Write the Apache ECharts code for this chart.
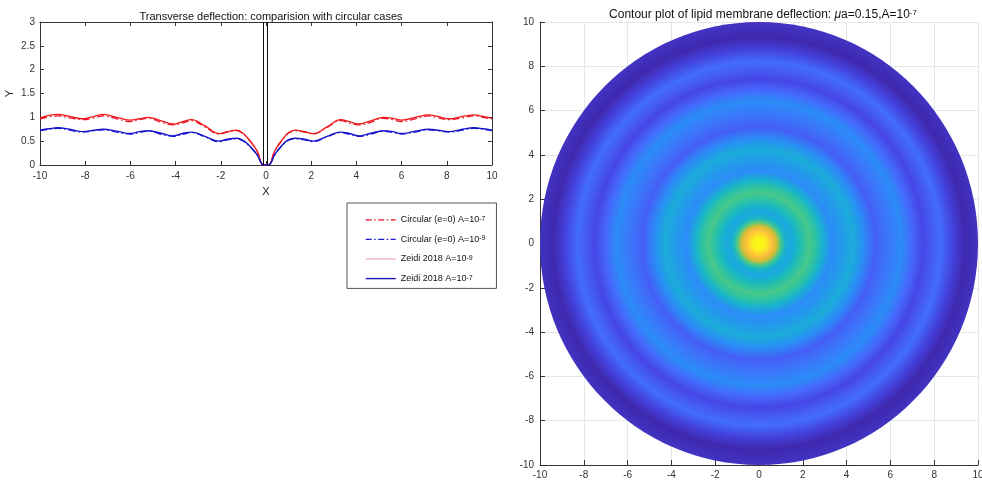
<!DOCTYPE html>
<html><head><meta charset="utf-8">
<script src="https://cdn.jsdelivr.net/npm/echarts@6/dist/echarts.min.js"></script>
<style>html,body{margin:0;padding:0;background:#fff}#c{width:982px;height:483px}</style>
</head><body><div id="c"></div>
<script>
// ---------- Left chart data ----------
const X = [-10, -9.6, -9.2, -8.7, -8.1, -7.6, -7.2, -6.6, -6.0, -5.6, -5.2, -4.6, -4.1, -3.7, -3.3, -2.7, -2.1, -1.7, -1.3, -1.0, -0.7, -0.4, -0.1,
           0.1, 0.4, 0.7, 1.0, 1.3, 1.7, 2.1, 2.7, 3.3, 3.7, 4.1, 4.6, 5.2, 5.6, 6.0, 6.6, 7.2, 7.6, 8.1, 8.7, 9.2, 9.6, 10];
const redZeidi = [0.99, 1.04, 1.06, 1.02, 0.97, 1.02, 1.06, 1.00, 0.94, 0.97, 1.00, 0.92, 0.86, 0.91, 0.95, 0.82, 0.66, 0.70, 0.73, 0.66, 0.50, 0.30, 0.00,
                  0.00, 0.31, 0.52, 0.68, 0.73, 0.70, 0.66, 0.80, 0.95, 0.91, 0.86, 0.92, 1.00, 0.98, 0.94, 1.00, 1.05, 1.02, 0.97, 1.02, 1.05, 1.02, 0.98];
const redCirc  = [0.97, 1.01, 1.03, 0.99, 0.95, 0.99, 1.03, 0.97, 0.91, 0.95, 0.98, 0.89, 0.84, 0.88, 0.93, 0.80, 0.65, 0.69, 0.72, 0.65, 0.50, 0.30, 0.00,
                  0.00, 0.31, 0.51, 0.67, 0.72, 0.69, 0.65, 0.79, 0.93, 0.88, 0.84, 0.89, 0.98, 0.95, 0.91, 0.97, 1.03, 0.99, 0.95, 0.99, 1.03, 1.00, 0.97];
const blueZeidi = [0.73, 0.76, 0.78, 0.75, 0.70, 0.73, 0.75, 0.71, 0.66, 0.70, 0.72, 0.66, 0.61, 0.66, 0.69, 0.60, 0.50, 0.54, 0.56, 0.51, 0.39, 0.22, 0.00,
                   0.00, 0.23, 0.41, 0.53, 0.56, 0.54, 0.50, 0.60, 0.69, 0.66, 0.61, 0.66, 0.72, 0.70, 0.66, 0.71, 0.75, 0.73, 0.70, 0.75, 0.78, 0.76, 0.73];
const blueCirc  = [0.72, 0.75, 0.77, 0.73, 0.69, 0.72, 0.74, 0.69, 0.65, 0.68, 0.71, 0.64, 0.60, 0.64, 0.68, 0.59, 0.49, 0.53, 0.55, 0.50, 0.38, 0.22, 0.00,
                   0.00, 0.22, 0.40, 0.52, 0.55, 0.53, 0.49, 0.59, 0.68, 0.64, 0.60, 0.64, 0.71, 0.68, 0.65, 0.69, 0.74, 0.72, 0.69, 0.73, 0.77, 0.75, 0.72];
const wallX = [-0.12, 0.04];

const seriesNames = ['Circular (e=0) A=10-7', 'Circular (e=0) A=10-9', 'Zeidi 2018 A=10-9', 'Zeidi 2018 A=10-7'];
const legendBase = ['Circular (e=0) A=10', 'Circular (e=0) A=10', 'Zeidi 2018 A=10', 'Zeidi 2018 A=10'];
const legendExp = ['-7', '-9', '-9', '-7'];

// ---------- Right chart: radial profile of the contour (normalized colour value) ----------
const profileR = [0, 0.3, 0.6, 0.8, 1.0, 1.2, 1.45, 1.7, 2.0, 2.3, 2.6, 2.9, 3.3, 3.7, 4.3, 4.8, 5.3, 5.9, 6.5, 7.0, 7.5, 7.9, 8.3, 8.9, 9.4, 10];
const profileV = [1.0, 0.98, 0.90, 0.80, 0.62, 0.46, 0.40, 0.46, 0.56, 0.62, 0.57, 0.45, 0.30, 0.34, 0.42, 0.30, 0.17, 0.24, 0.30, 0.20, 0.10, 0.16, 0.21, 0.08, 0.01, 0.04];
const parulaPos = [0.0, 0.1, 0.2, 0.3, 0.4, 0.5, 0.6, 0.7, 0.8, 0.9, 1.0];
const parulaHex = ['#3e26a8', '#4645e6', '#4569fc', '#2b8cf7', '#1ca8e0', '#14bbbd', '#38c796', '#85cc59', '#d4bd33', '#fcbf3d', '#f9fb14'];

const FONT = 'Liberation Sans, Arial, sans-serif';
const AX = '#333333';

function hexRgb(h){ return [parseInt(h.slice(1,3),16), parseInt(h.slice(3,5),16), parseInt(h.slice(5,7),16)]; }
function parula(v){
  v = Math.max(0, Math.min(1, v));
  for (let i = 0; i < parulaPos.length - 1; i++) {
    if (v <= parulaPos[i+1]) {
      const t = (v - parulaPos[i]) / (parulaPos[i+1] - parulaPos[i]);
      const a = hexRgb(parulaHex[i]), b = hexRgb(parulaHex[i+1]);
      return 'rgb(' + a.map((c, k) => Math.round(c + (b[k]-c)*t)).join(',') + ')';
    }
  }
  return parulaHex[parulaHex.length-1];
}
const gradStops = profileR.map((r, i) => ({offset: r / 10, color: parula(profileV[i])}));

const pairs = ys => X.map((x, i) => [x, ys[i]]);
const dashDot = [7, 3, 1.5, 3];

const chart = echarts.init(document.getElementById('c'), null, {renderer: 'canvas'});

function lineSeries(name, data, color, dash, width) {
  return {
    name, type: 'line', xAxisIndex: 0, yAxisIndex: 0, data, smooth: 0.4,
    symbol: 'none', showSymbol: false, silent: true,
    lineStyle: {color, width, type: dash ? dashDot : 'solid'},
    itemStyle: {color}, z: 3
  };
}

const hiddenSym = {opacity: 0, color: 'rgba(0,0,0,0)', borderWidth: 0};

const option = {
  animation: false,
  backgroundColor: '#fff',
  title: [
    {text: 'Transverse deflection: comparision with circular cases', left: 266, top: 6, textAlign: 'center',
     textStyle: {fontFamily: FONT, fontSize: 11, fontWeight: 'normal', color: '#111'}},
    {text: 'Contour plot of lipid membrane deflection: {i|μ}a=0.15,A=10{s|-7}', left: 758, top: 4, textAlign: 'center',
     textStyle: {fontFamily: FONT, fontSize: 12, fontWeight: 'normal', color: '#111',
       rich: {i: {fontFamily: FONT, fontStyle: 'italic', fontSize: 12, color: '#111'},
              s: {fontFamily: FONT, fontSize: 8, color: '#111', verticalAlign: 'top', lineHeight: 8}}}}
  ],
  legend: {
    left: 347, top: 203, orient: 'vertical', itemWidth: 30, itemHeight: 12, itemGap: 10,
    padding: [12, 11, 5, 18], borderColor: '#555', borderWidth: 1, backgroundColor: '#fff',
    selectedMode: false,
    textStyle: {fontFamily: FONT, fontSize: 9, color: '#111',
      rich: {t: {fontFamily: FONT, fontSize: 9, color: '#111'},
             s: {fontFamily: FONT, fontSize: 7, color: '#111', verticalAlign: 'top', lineHeight: 6}}},
    formatter: name => { const i = seriesNames.indexOf(name); return '{t|' + legendBase[i] + '}{s|' + legendExp[i] + '}'; },
    data: [
      {name: seriesNames[0], itemStyle: hiddenSym, lineStyle: {color: '#e8102a', width: 1.2, type: [6, 2.5, 1.5, 2.5]}},
      {name: seriesNames[1], itemStyle: hiddenSym, lineStyle: {color: '#1a1ad8', width: 1.2, type: [6, 2.5, 1.5, 2.5]}},
      {name: seriesNames[2], itemStyle: hiddenSym, lineStyle: {color: '#f2a3ad', width: 1.2, type: 'solid'}},
      {name: seriesNames[3], itemStyle: hiddenSym, lineStyle: {color: '#1414b8', width: 1.4, type: 'solid'}}
    ]
  },
  grid: [
    {left: 40, top: 22, width: 452, height: 143, containLabel: false, outerBoundsMode: 'none'},
    {left: 540, top: 22, width: 438, height: 443, containLabel: false, outerBoundsMode: 'none'}
  ],
  xAxis: [
    {type: 'value', gridIndex: 0, min: -10, max: 10, interval: 2, name: 'X', nameLocation: 'middle', nameGap: 21,
     nameTextStyle: {fontFamily: FONT, fontSize: 11, color: '#222'},
     axisLine: {show: true, onZero: false, lineStyle: {color: AX, width: 1}},
     axisTick: {show: true, inside: true, length: 4, lineStyle: {color: AX}},
     axisLabel: {fontFamily: FONT, fontSize: 10, color: '#333', margin: 6},
     splitLine: {show: false}},
    {type: 'value', gridIndex: 0, position: 'top', min: -10, max: 10, interval: 2,
     axisLine: {show: true, onZero: false, lineStyle: {color: AX, width: 1}},
     axisTick: {show: true, inside: true, length: 4, lineStyle: {color: AX}},
     axisLabel: {show: false}, splitLine: {show: false}},
    {type: 'value', gridIndex: 1, min: -10, max: 10, interval: 2,
     axisLine: {show: true, onZero: false, lineStyle: {color: AX, width: 1}},
     axisTick: {show: true, inside: true, length: 5, lineStyle: {color: AX}},
     axisLabel: {fontFamily: FONT, fontSize: 10, color: '#333', margin: 5},
     splitLine: {show: true, lineStyle: {color: '#e6e6e6', width: 1}}}
  ],
  yAxis: [
    {type: 'value', gridIndex: 0, min: 0, max: 3, interval: 0.5, name: 'Y', nameLocation: 'middle', nameGap: 25,
     nameTextStyle: {fontFamily: FONT, fontSize: 11, color: '#222'},
     axisLine: {show: true, onZero: false, lineStyle: {color: AX, width: 1}},
     axisTick: {show: true, inside: true, length: 4, lineStyle: {color: AX}},
     axisLabel: {fontFamily: FONT, fontSize: 10, color: '#333', margin: 5},
     splitLine: {show: false}},
    {type: 'value', gridIndex: 0, position: 'right', min: 0, max: 3, interval: 0.5,
     axisLine: {show: true, onZero: false, lineStyle: {color: AX, width: 1}},
     axisTick: {show: true, inside: true, length: 4, lineStyle: {color: AX}},
     axisLabel: {show: false}, splitLine: {show: false}},
    {type: 'value', gridIndex: 1, min: -10, max: 10, interval: 2,
     axisLine: {show: true, onZero: false, lineStyle: {color: AX, width: 1}},
     axisTick: {show: true, inside: true, length: 5, lineStyle: {color: AX}},
     axisLabel: {fontFamily: FONT, fontSize: 10, color: '#333', margin: 6},
     splitLine: {show: true, lineStyle: {color: '#e6e6e6', width: 1}}}
  ],
  series: [
    lineSeries(seriesNames[0], pairs(redCirc), '#e8102a', true, 1.3),
    lineSeries(seriesNames[1], pairs(blueCirc), '#1a1ad8', true, 1.3),
    lineSeries(seriesNames[2], pairs(redZeidi), '#f01818', false, 1.3),
    lineSeries(seriesNames[3], pairs(blueZeidi), '#1414c8', false, 1.4),
    {
      type: 'line', xAxisIndex: 0, yAxisIndex: 0, data: [], silent: true, symbol: 'none',
      markLine: {silent: true, symbol: 'none', label: {show: false},
        lineStyle: {color: '#111', width: 1, type: 'solid'},
        data: wallX.map(x => ({xAxis: x}))}
    },
    {
      type: 'custom', xAxisIndex: 2, yAxisIndex: 2, silent: true,
      data: [[0, 0, 10]], encode: {x: 0, y: 1},
      renderItem: (params, api) => {
        const c = api.coord([api.value(0), api.value(1)]);
        const s = api.size([api.value(2), api.value(2)]);
        return {
          type: 'ellipse',
          shape: {cx: c[0], cy: c[1], rx: s[0], ry: s[1]},
          style: {fill: {type: 'radial', x: 0.5, y: 0.5, r: 0.5, colorStops: gradStops}}
        };
      }
    }
  ]
};
chart.setOption(option);
</script>
</body></html>
